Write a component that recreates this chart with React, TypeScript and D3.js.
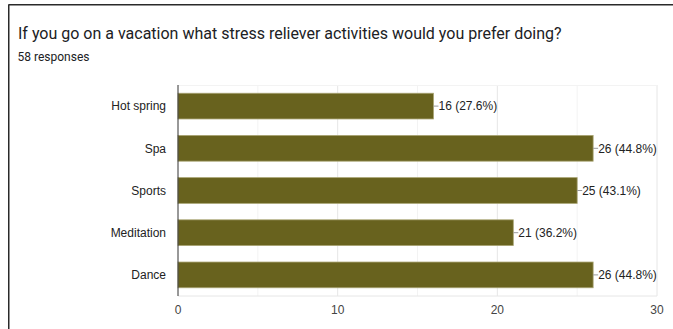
import React from "react";
import * as d3 from "d3";

const categories = ["Hot spring", "Spa", "Sports", "Meditation", "Dance"];
const counts = [16, 26, 25, 21, 26];
const percents = ["27.6%", "44.8%", "43.1%", "36.2%", "44.8%"];
const majorTicks = [0, 10, 20, 30];
const minorTicks = [5, 15, 25];
const title = "If you go on a vacation what stress reliever activities would you prefer doing?";
const subtitle = "58 responses";

export default function App() {
  const W = 673, H = 329;
  const x = d3.scaleLinear().domain([0, 30]).range([178, 657]);
  const y = d3.scaleBand<string>().domain(categories).range([85, 296]).paddingInner(0.39).paddingOuter(0.195);
  const font = "Roboto, Arial, sans-serif";
  const chartFont = "'Liberation Sans', Arial, sans-serif";
  return (
    <svg width={W} height={H} style={{ position: "absolute", left: 0, top: 0, background: "#fff" }} fontFamily={font}>
      <line x1={8.5} y1={4.75} x2={673} y2={4.75} stroke="#2a2a2a" strokeWidth={1.5} />
      <line x1={8.75} y1={4.5} x2={8.75} y2={329} stroke="#2a2a2a" strokeWidth={1.5} />
      <text x={18} y={39} fontSize={16} fill="#202124">{title}</text>
      <text x={17.5} y={61} fontSize={12} fill="#202124">{subtitle}</text>
      {minorTicks.map((t) => (
        <line key={"m" + t} x1={x(t)} x2={x(t)} y1={85} y2={296} stroke="#f3f3f3" strokeWidth={1} />
      ))}
      {majorTicks.filter((t) => t > 0).map((t) => (
        <line key={"g" + t} x1={x(t)} x2={x(t)} y1={85} y2={296} stroke="#e6e6e6" strokeWidth={1} />
      ))}
      <line x1={178} x2={657} y1={85.5} y2={85.5} stroke="#f3f3f3" />
      <line x1={178} x2={657} y1={296} y2={296} stroke="#e6e6e6" />
      <g fontFamily={chartFont}>
        {categories.map((c, i) => {
          const by = y(c)!;
          const bw = x(counts[i]) - x(0);
          const cy = by + y.bandwidth() / 2;
          return (
            <g key={c}>
              <rect x={x(0)} y={by} width={bw} height={y.bandwidth()} fill="#68621e" stroke="#a8a472" strokeWidth={0.8} />
              <line x1={x(counts[i])} x2={x(counts[i]) + 5} y1={cy} y2={cy} stroke="#999" strokeWidth={1} />
              <text x={x(counts[i]) + 5} y={cy} dy="0.35em" fontSize={12} fill="#222">{`${counts[i]} (${percents[i]})`}</text>
              <text x={166} y={cy} dy="0.35em" fontSize={12} fill="#222" textAnchor="end">{c}</text>
            </g>
          );
        })}
        <line x1={178} x2={178} y1={85} y2={296} stroke="#333" strokeWidth={1} />
        {majorTicks.map((t) => (
          <text key={"t" + t} x={x(t)} y={310} dy="0.35em" fontSize={12} fill="#444" textAnchor="middle">{t}</text>
        ))}
      </g>
    </svg>
  );
}
